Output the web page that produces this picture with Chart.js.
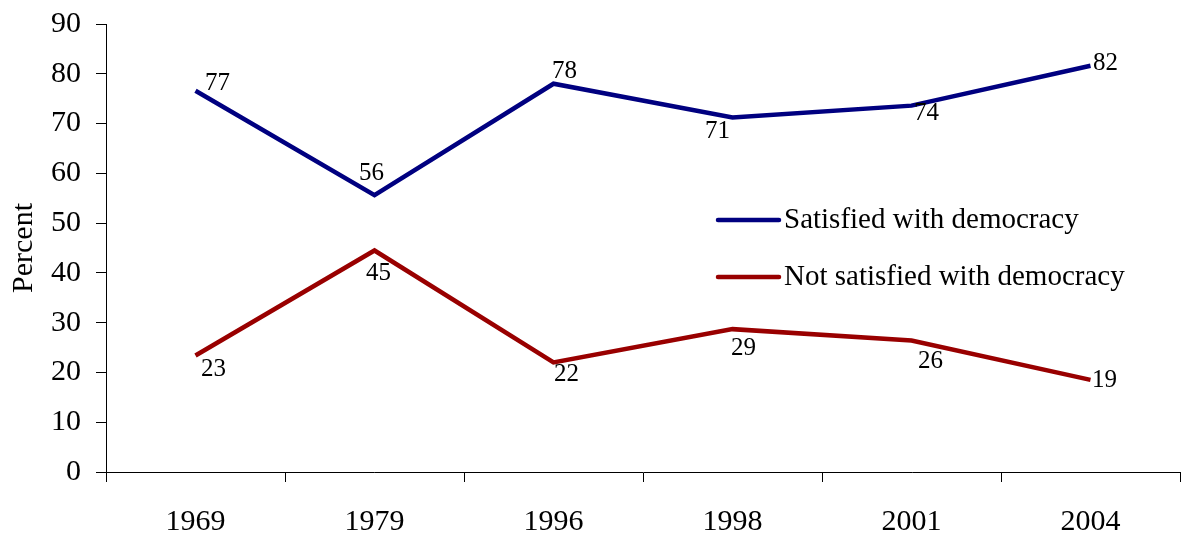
<!DOCTYPE html>
<html>
<head>
<meta charset="utf-8">
<script src="https://cdn.jsdelivr.net/npm/chart.js@4"></script>
<style>
  html, body { margin: 0; padding: 0; background: #fff; }
  #wrap { width: 1184px; height: 533px; }
</style>
</head>
<body>
<div id="wrap"><canvas id="myChart"></canvas></div>
<script>
const years = ['1969', '1979', '1996', '1998', '2001', '2004'];
const satisfied = [76.6, 55.6, 78.0, 71.2, 73.6, 81.6];
const notSatisfied = [23.4, 44.5, 22.0, 28.7, 26.4, 18.5];
const satisfiedLabels = ['77', '56', '78', '71', '74', '82'];
const notSatisfiedLabels = ['23', '45', '22', '29', '26', '19'];

// where each value label sits relative to its point
const labelShift = [
    [[22, -7], [-3, -22], [11, -12], [-15, 14], [15, 8], [15, -2]],
    [[18, 14], [4, 23], [13, 12], [11, 19], [19, 21], [14, 1]]
];
const serif = '"Liberation Serif", "Times New Roman", serif';

const valueLabels = {
    id: 'valueLabels',
    afterDatasetsDraw(chart) {
        const ctx = chart.ctx;
        ctx.save();
        ctx.font = '25px ' + serif;
        ctx.fillStyle = '#000';
        ctx.textAlign = 'center';
        ctx.textBaseline = 'middle';
        chart.data.datasets.forEach((ds, d) => {
            chart.getDatasetMeta(d).data.forEach((pt, i) => {
                const s = labelShift[d][i];
                ctx.fillText(ds.valueText[i], pt.x + s[0], pt.y + s[1]);
            });
        });
        ctx.restore();
    }
};

// legend drawn inside the plot, right of centre
const innerLegend = {
    id: 'innerLegend',
    afterDraw(chart) {
        const ctx = chart.ctx;
        const x0 = 718, y0 = 220, gap = 57;
        ctx.save();
        ctx.font = '29px ' + serif;
        ctx.textBaseline = 'middle';
        chart.data.datasets.forEach((ds, d) => {
            const y = y0 + d * gap;
            ctx.strokeStyle = ds.borderColor;
            ctx.lineWidth = 4.5;
            ctx.lineCap = 'round';
            ctx.beginPath();
            ctx.moveTo(x0, y);
            ctx.lineTo(x0 + 61, y);
            ctx.stroke();
            ctx.fillStyle = '#000';
            ctx.fillText(ds.label, x0 + 66, y);
        });
        ctx.restore();
    }
};

const ctx = document.getElementById('myChart').getContext('2d');
new Chart(ctx, {
    type: 'line',
    data: {
        labels: years,
        datasets: [{
            label: 'Satisfied with democracy',
            data: satisfied,
            valueText: satisfiedLabels,
            borderColor: '#000080',
            borderWidth: 4.5,
            pointRadius: 0,
            tension: 0
        }, {
            label: 'Not satisfied with democracy',
            data: notSatisfied,
            valueText: notSatisfiedLabels,
            borderColor: '#990000',
            borderWidth: 4.5,
            pointRadius: 0,
            tension: 0
        }]
    },
    options: {
        responsive: true,
        maintainAspectRatio: false,
        animation: false,
        layout: { padding: { top: 24, right: 4, bottom: -29, left: 6 } },
        plugins: {
            legend: { display: false },
            tooltip: { enabled: false }
        },
        scales: {
            x: {
                offset: true,
                grid: {
                    offset: true,
                    drawOnChartArea: false,
                    drawTicks: true,
                    tickLength: 10,
                    color: '#000'
                },
                border: { color: '#000', width: 1 },
                ticks: {
                    color: '#000',
                    padding: 22,
                    font: { family: serif, size: 30 }
                }
            },
            y: {
                min: 0,
                max: 90,
                grid: {
                    drawOnChartArea: false,
                    drawTicks: true,
                    tickLength: 10,
                    color: '#000'
                },
                border: { color: '#000', width: 1 },
                ticks: {
                    stepSize: 10,
                    color: '#000',
                    padding: 15,
                    font: { family: serif, size: 30, lineHeight: 0.5 }
                },
                title: {
                    display: true,
                    text: 'Percent',
                    color: '#000',
                    padding: { top: 0, bottom: -6 },
                    font: { family: serif, size: 30 }
                }
            }
        }
    },
    plugins: [valueLabels, innerLegend]
});
</script>
</body>
</html>
